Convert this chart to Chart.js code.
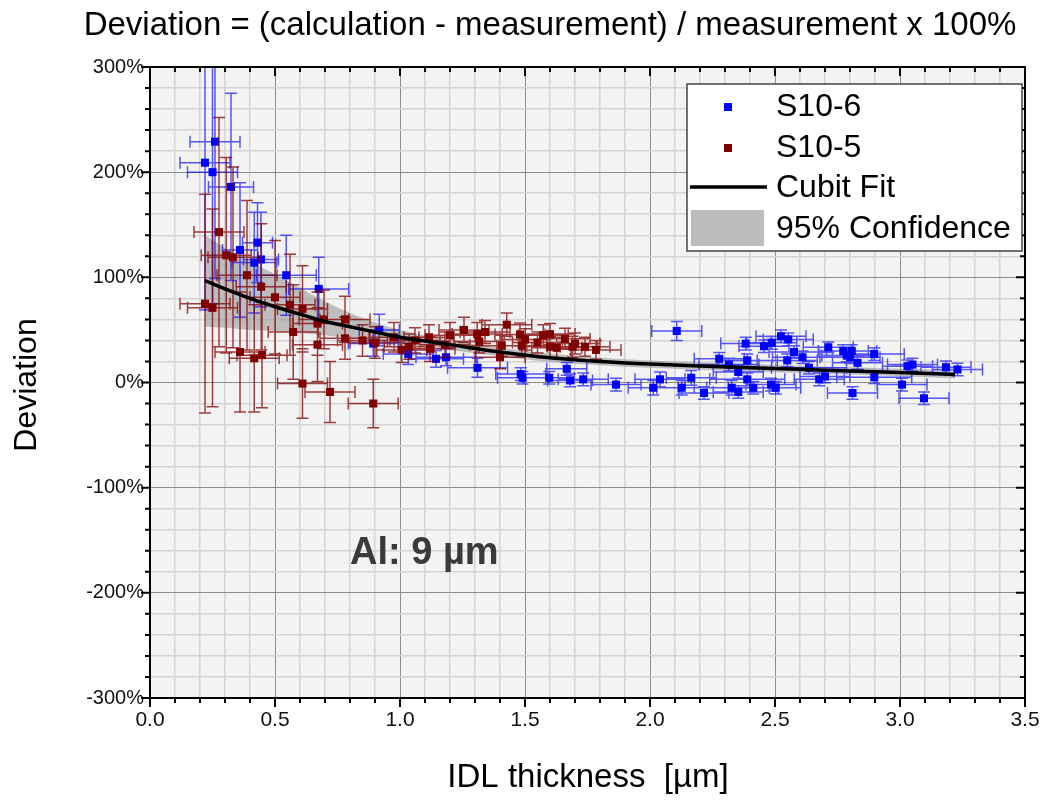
<!DOCTYPE html>
<html>
<head>
<meta charset="utf-8">
<script src="https://cdn.jsdelivr.net/npm/chart.js@4.4.1/dist/chart.umd.min.js"></script>
<style>
  html, body { margin: 0; padding: 0; background: #fff; }
  #chart { display: block; }
</style>
</head>
<body>
<canvas id="chart" width="1052" height="801"></canvas>
<script>
// S10-6 (blue) : thickness [um], deviation [%], x error, y error
const s6X    = [0.22, 0.26, 0.25, 0.324, 0.36, 0.43, 0.444, 0.417, 0.545, 0.675, 0.917, 0.893, 1.033, 1.144, 1.184, 1.31, 1.483, 1.49, 1.597, 1.667, 1.68, 1.733, 1.864, 2.013, 2.04, 2.107, 2.127, 2.165, 2.216, 2.277, 2.316, 2.327, 2.353, 2.353, 2.383, 2.389, 2.389, 2.413, 2.456, 2.484, 2.487, 2.503, 2.524, 2.549, 2.553, 2.576, 2.61, 2.636, 2.677, 2.7, 2.713, 2.773, 2.787, 2.807, 2.8, 2.83, 2.81, 2.897, 2.897, 3.008, 3.03, 3.05, 3.096, 3.184, 3.23];
const s6Y    = [209, 229, 200, 186, 126, 133, 117, 114, 102, 89, 50, 37, 27, 22.5, 24, 14, 8, 4.5, 4.5, 13, 2, 3, -2, -5, 3, 49, -5, 4.5, -10, 22.5, 17, -5, 10, -9, 37, 21, 3, -5, 34.5, -2, 37.7, -5, 44, 21, 41, 29, 24, 14, 3, 5.7, 33.5, 30, 25.7, 30, 24, 18.7, -10, 27, 5, -2, 15.5, 17, -15, 14.5, 12.4];
const s6ErrX = [0.10, 0.10, 0.10, 0.09, 0.07, 0.06, 0.07, 0.09, 0.12, 0.12, 0.08, 0.10, 0.10, 0.11, 0.12, 0.12, 0.10, 0.10, 0.10, 0.08, 0.09, 0.10, 0.10, 0.10, 0.10, 0.10, 0.10, 0.10, 0.10, 0.10, 0.12, 0.15, 0.10, 0.10, 0.10, 0.12, 0.15, 0.10, 0.10, 0.10, 0.10, 0.10, 0.10, 0.12, 0.10, 0.10, 0.12, 0.15, 0.10, 0.10, 0.10, 0.10, 0.10, 0.10, 0.12, 0.10, 0.10, 0.12, 0.15, 0.10, 0.10, 0.10, 0.10, 0.10, 0.10];
const s6ErrY = [140, 130, 125, 89, 64, 38, 45, 48, 38, 30, 15, 12, 10, 8, 8, 9, 6, 6, 6, 6, 6, 6, 6, 7, 7, 9, 7, 7, 6, 6, 6, 7, 6, 6, 6, 6, 6, 6, 6, 6, 6, 6, 6, 6, 6, 6, 6, 6, 6, 6, 5, 6, 6, 6, 6, 6, 6, 6, 6, 6, 6, 6, 6, 6, 6];

// S10-5 (dark red)
const s5X    = [0.22, 0.25, 0.276, 0.305, 0.332, 0.36, 0.388, 0.417, 0.445, 0.448, 0.50, 0.56, 0.573, 0.61, 0.61, 0.67, 0.67, 0.696, 0.72, 0.78, 0.78, 0.893, 0.9, 0.976, 1.007, 1.037, 1.116, 1.12, 1.2, 1.256, 1.309, 1.317, 1.34, 1.4, 1.407, 1.427, 1.48, 1.487, 1.5, 1.573, 1.6, 1.6, 1.627, 1.66, 1.69, 1.74, 1.784, 1.06, 1.18, 1.55, 1.7, 0.85];
const s5Y    = [75, 71, 143, 121, 119, 29, 102, 23, 91, 26, 81, 74, 48, 70, -1, 56, 36, 60, -9, 60, 42, -20, 38, 43, 31, 34, 43, 32, 45, 50, 46, 39, 48, 24, 35, 55, 45.6, 35, 41, 45, 46, 34, 33, 41.5, 34, 34, 31, 40, 36, 38, 37, 40];
const s5ErrX = [0.10, 0.10, 0.10, 0.10, 0.10, 0.10, 0.12, 0.10, 0.10, 0.10, 0.10, 0.10, 0.10, 0.10, 0.10, 0.10, 0.10, 0.10, 0.10, 0.10, 0.10, 0.10, 0.10, 0.10, 0.10, 0.10, 0.10, 0.10, 0.10, 0.10, 0.10, 0.10, 0.10, 0.10, 0.10, 0.10, 0.10, 0.10, 0.10, 0.10, 0.10, 0.10, 0.10, 0.10, 0.10, 0.10, 0.10, 0.10, 0.10, 0.10, 0.10, 0.10];
const s5ErrY = [104, 94, 109, 93, 86, 57, 71, 51, 60, 50, 54, 48, 45, 41, 33, 30, 35, 28, 29, 22, 20, 23, 15, 14, 12, 12, 12, 12, 12, 12, 11, 11, 11, 11, 10, 11, 11, 10, 10, 10, 10, 10, 10, 10, 10, 9, 9, 12, 12, 10, 10, 15];

// fit curve and 95% band
const fitX   = [0.22, 0.3, 0.4, 0.5, 0.6, 0.7, 0.8, 0.9, 1.0, 1.2, 1.4, 1.6, 1.8, 2.0, 2.2, 2.4, 2.6, 2.8, 3.0, 3.22];
const fitY   = [97, 89, 80, 72, 65, 58, 53, 48, 43, 36, 29, 23.5, 20, 17.5, 15.6, 14, 12.5, 11, 9.5, 7.6];
const bandHi = [140, 128, 115, 103, 90, 77, 66, 57, 50, 41, 33, 27.5, 23.5, 21, 19, 17.5, 16, 14.5, 13, 11.5];
const bandLo = [53, 52, 50, 49, 47, 45, 42, 40, 37, 31, 25, 19.5, 16.5, 14, 12.2, 10.5, 9, 7.5, 6, 3.8];

const FONT = "'Liberation Sans', Arial, sans-serif";
const BLUE = '#0000ff', RED = '#800000';

const pts = (xs, ys) => xs.map((x, i) => ({ x: x, y: ys[i] }));
const isMajorX = v => Math.abs(Math.round(v * 10)) % 5 === 0;
const isMajorY = v => Math.round(v) % 100 === 0;

// error bars, drawn just before the dataset's own points
const errorBars = {
    id: 'errorBars',
    beforeDatasetDraw(chart, args) {
        const ds = chart.data.datasets[args.index];
        if (!ds.errX) return;
        const { ctx, chartArea: a } = chart;
        const xs = chart.scales.x, ys = chart.scales.y;
        const cap = 6;
        ctx.save();
        ctx.beginPath();
        ctx.rect(a.left, a.top, a.right - a.left, a.bottom - a.top);
        ctx.clip();
        ctx.strokeStyle = ds.errColor;
        ctx.lineWidth = 1.5;
        ctx.beginPath();
        ds.data.forEach((p, i) => {
            const px = xs.getPixelForValue(p.x), py = ys.getPixelForValue(p.y);
            const x1 = xs.getPixelForValue(p.x - ds.errX[i]), x2 = xs.getPixelForValue(p.x + ds.errX[i]);
            const y1 = ys.getPixelForValue(p.y + ds.errY[i]), y2 = ys.getPixelForValue(p.y - ds.errY[i]);
            ctx.moveTo(x1, py); ctx.lineTo(x2, py);
            ctx.moveTo(x1, py - cap); ctx.lineTo(x1, py + cap);
            ctx.moveTo(x2, py - cap); ctx.lineTo(x2, py + cap);
            ctx.moveTo(px, y1); ctx.lineTo(px, y2);
            ctx.moveTo(px - cap, y1); ctx.lineTo(px + cap, y1);
            ctx.moveTo(px - cap, y2); ctx.lineTo(px + cap, y2);
        });
        ctx.stroke();
        ctx.restore();
    }
};

// background, frame, ticks, titles, legend and label
const decor = {
    id: 'decor',
    beforeDraw(chart) {
        const { ctx, chartArea: a } = chart;
        ctx.save();
        ctx.fillStyle = '#ffffff';
        ctx.fillRect(0, 0, chart.width, chart.height);
        ctx.fillStyle = '#f3f3f3';
        ctx.fillRect(a.left, a.top, a.right - a.left, a.bottom - a.top);
        ctx.restore();
    },
    afterDraw(chart) {
        const { ctx, chartArea: a } = chart;
        const xs = chart.scales.x, ys = chart.scales.y;
        ctx.save();

        // frame
        ctx.strokeStyle = '#000';
        ctx.lineWidth = 2;
        ctx.strokeRect(a.left, a.top, a.right - a.left, a.bottom - a.top);

        // tick marks: outside on bottom/left, inside on top/right
        ctx.lineWidth = 2;
        ctx.beginPath();
        xs.ticks.forEach(t => {
            const px = xs.getPixelForValue(t.value);
            const len = isMajorX(t.value) ? 9 : 5;
            ctx.moveTo(px, a.bottom); ctx.lineTo(px, a.bottom + len);
            ctx.moveTo(px, a.top); ctx.lineTo(px, a.top + len);
        });
        ys.ticks.forEach(t => {
            const py = ys.getPixelForValue(t.value);
            const len = isMajorY(t.value) ? 9 : 5;
            ctx.moveTo(a.left, py); ctx.lineTo(a.left - len, py);
            ctx.moveTo(a.right, py); ctx.lineTo(a.right - len, py);
        });
        ctx.stroke();

        // title and axis titles
        ctx.fillStyle = '#000';
        ctx.textAlign = 'center';
        ctx.textBaseline = 'middle';
        ctx.font = '33px ' + FONT;
        ctx.fillText('Deviation = (calculation - measurement) / measurement x 100%', 550, 26);
        ctx.fillText('IDL thickness  [\u00b5m]', 588, 778);
        ctx.save();
        ctx.translate(27, 385);
        ctx.rotate(-Math.PI / 2);
        ctx.font = '32px ' + FONT;
        ctx.fillText('Deviation', 0, 0);
        ctx.restore();

        // annotation
        ctx.font = 'bold 38px ' + FONT;
        ctx.fillStyle = '#3a3a3a';
        ctx.textAlign = 'left';
        ctx.fillText('Al: 9 \u00b5m', xs.getPixelForValue(0.8), ys.getPixelForValue(-163));

        // legend
        const lx = 687, ly = 84, lw = 335, lh = 167;
        ctx.fillStyle = '#ffffff';
        ctx.fillRect(lx, ly, lw, lh);
        ctx.strokeStyle = '#444';
        ctx.lineWidth = 1.5;
        ctx.strokeRect(lx, ly, lw, lh);
        ctx.fillStyle = BLUE;
        ctx.fillRect(724, 103, 8, 8);
        ctx.fillStyle = RED;
        ctx.fillRect(724, 144, 8, 8);
        ctx.strokeStyle = '#000';
        ctx.lineWidth = 3.5;
        ctx.beginPath();
        ctx.moveTo(690, 187); ctx.lineTo(767, 187);
        ctx.stroke();
        ctx.fillStyle = '#bdbdbd';
        ctx.fillRect(691, 210, 73, 36);
        ctx.fillStyle = '#000';
        ctx.font = '32px ' + FONT;
        ctx.textAlign = 'left';
        ctx.fillText('S10-6', 776, 107);
        ctx.fillText('S10-5', 776, 148);
        ctx.fillText('Cubit Fit', 776, 188);
        ctx.fillText('95% Confidence', 776, 229);

        ctx.restore();
    }
};

new Chart(document.getElementById('chart').getContext('2d'), {
    type: 'scatter',
    data: {
        datasets: [
            {
                label: '95% upper',
                type: 'line',
                data: pts(fitX, bandHi),
                borderWidth: 0,
                pointRadius: 0,
                fill: '+1',
                backgroundColor: 'rgba(155,155,155,0.62)',
                cubicInterpolationMode: 'monotone',
                order: 5
            },
            {
                label: '95% lower',
                type: 'line',
                data: pts(fitX, bandLo),
                borderWidth: 0,
                pointRadius: 0,
                fill: false,
                cubicInterpolationMode: 'monotone',
                order: 5
            },
            {
                label: 'S10-6',
                data: pts(s6X, s6Y),
                errX: s6ErrX,
                errY: s6ErrY,
                errColor: 'rgba(0,0,255,0.65)',
                pointStyle: 'rect',
                pointRadius: 5.7,
                pointBorderWidth: 0,
                backgroundColor: BLUE,
                borderColor: BLUE,
                order: 4
            },
            {
                label: 'S10-5',
                data: pts(s5X, s5Y),
                errX: s5ErrX,
                errY: s5ErrY,
                errColor: 'rgba(128,0,0,0.75)',
                pointStyle: 'rect',
                pointRadius: 5.7,
                pointBorderWidth: 0,
                backgroundColor: RED,
                borderColor: RED,
                order: 3
            },
            {
                label: 'Cubit Fit',
                type: 'line',
                data: pts(fitX, fitY),
                borderColor: '#000',
                borderWidth: 3.5,
                pointRadius: 0,
                fill: false,
                cubicInterpolationMode: 'monotone',
                order: 1
            }
        ]
    },
    options: {
        responsive: false,
        animation: false,
        devicePixelRatio: 1,
        layout: { padding: { top: 67, right: 27, left: 0, bottom: 0 } },
        plugins: {
            legend: { display: false },
            title: { display: false },
            tooltip: { enabled: false }
        },
        scales: {
            x: {
                type: 'linear',
                min: 0,
                max: 3.5,
                afterFit: s => { s.height = 103; },
                border: { display: false },
                grid: {
                    drawTicks: false,
                    color: c => isMajorX(c.tick.value) ? '#8c8c8c' : '#d4d4d4',
                    lineWidth: c => isMajorX(c.tick.value) ? 1 : 1.5
                },
                ticks: {
                    stepSize: 0.1,
                    autoSkip: false,
                    maxRotation: 0,
                    padding: 10,
                    color: '#111',
                    font: { family: FONT, size: 21 },
                    callback: v => isMajorX(v) ? v.toFixed(1) : ''
                }
            },
            y: {
                min: -300,
                max: 300,
                afterFit: s => { s.width = 150; },
                border: { display: false },
                grid: {
                    drawTicks: false,
                    color: c => isMajorY(c.tick.value) ? '#8c8c8c' : '#d4d4d4',
                    lineWidth: c => isMajorY(c.tick.value) ? 1 : 1.5
                },
                ticks: {
                    stepSize: 20,
                    autoSkip: false,
                    padding: 6,
                    color: '#111',
                    font: { family: FONT, size: 20 },
                    callback: v => isMajorY(v) ? v + '%' : ''
                }
            }
        }
    },
    plugins: [errorBars, decor]
});
</script>
</body>
</html>
